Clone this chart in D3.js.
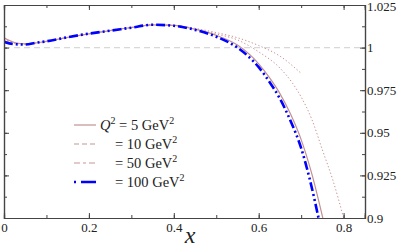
<!DOCTYPE html>
<html>
<head>
<meta charset="utf-8">
<script src="https://cdn.jsdelivr.net/npm/d3@7"></script>
<style>
  body { margin: 0; background: #fff; }
  svg text { font-family: "Liberation Serif", "Times New Roman", serif; fill: #222; }
</style>
</head>
<body>
<div id="chart"></div>
<script>
// ratio curves, one array pair per Q^2
var xQ5   = [0, 0.025, 0.05, 0.075, 0.1, 0.15, 0.2, 0.25, 0.3, 0.35, 0.4, 0.45, 0.5, 0.55, 0.6, 0.625, 0.65, 0.675, 0.7, 0.725, 0.751];
var yQ5   = [1.0058, 1.003, 1.0022, 1.0027, 1.0037, 1.006, 1.0081, 1.01, 1.0118, 1.0133, 1.013, 1.0108, 1.0072, 1.0015, 0.9905, 0.9825, 0.973, 0.961, 0.946, 0.926, 0.9];

var xQ10  = [0, 0.025, 0.05, 0.075, 0.1, 0.15, 0.2, 0.25, 0.3, 0.35, 0.4, 0.45, 0.5, 0.55, 0.6, 0.65, 0.68, 0.7, 0.725, 0.75, 0.775, 0.8];
var yQ10  = [1.005, 1.0028, 1.002, 1.0027, 1.0037, 1.006, 1.0081, 1.01, 1.0118, 1.0134, 1.013, 1.0108, 1.008, 1.0045, 0.9975, 0.988, 0.979, 0.971, 0.958, 0.94, 0.922, 0.9];

var xQ50  = [0, 0.025, 0.05, 0.075, 0.1, 0.15, 0.2, 0.25, 0.3, 0.35, 0.4, 0.45, 0.5, 0.55, 0.6, 0.65, 0.7];
var yQ50  = [1.0045, 1.0025, 1.002, 1.0027, 1.0037, 1.006, 1.0081, 1.01, 1.0118, 1.0134, 1.0131, 1.0113, 1.0088, 1.0058, 1.0012, 0.995, 0.9849];

var xQ100 = [0, 0.025, 0.05, 0.075, 0.1, 0.15, 0.2, 0.25, 0.3, 0.35, 0.4, 0.45, 0.5, 0.55, 0.575, 0.6, 0.625, 0.65, 0.675, 0.7, 0.72, 0.741];
var yQ100 = [1.0034, 1.002, 1.0018, 1.0028, 1.0037, 1.0061, 1.0082, 1.0099, 1.0117, 1.0134, 1.0128, 1.0104, 1.0064, 1.0, 0.995, 0.9885, 0.98, 0.97, 0.957, 0.941, 0.923, 0.9];

var legendQ = ["5", "10", "50", "100"];
var xTicks = [0, 0.2, 0.4, 0.6, 0.8];
var yTicks = [0.9, 0.925, 0.95, 0.975, 1, 1.025];

var width = 399, height = 248;
var padL = 4, padR = 365, padT = 5, padB = 218;

var svg = d3.select("#chart").append("svg")
  .attr("width", width)
  .attr("height", height);

var x = d3.scaleLinear().domain([0, 0.85]).range([padL, padL + 424.5 * 0.85]);
var y = d3.scaleLinear().domain([0.9, 1.025]).range([padB, padT]);

var plot = svg.append("g");
plot.append("clipPath").attr("id", "clip")
  .append("rect").attr("x", padL).attr("y", padT)
  .attr("width", padR - padL).attr("height", padB - padT);

// reference line at 1
plot.append("line")
  .attr("x1", padL).attr("x2", padR)
  .attr("y1", y(1)).attr("y2", y(1))
  .attr("stroke", "#d8d8d8").attr("stroke-width", 1.3)
  .attr("stroke-dasharray", "6,4");

var line = d3.line()
  .x(d => x(d[0]))
  .y(d => y(d[1]))
  .curve(d3.curveMonotoneX);

var series = [
  { xs: xQ10,  ys: yQ10,  color: "#c99393", w: 1,   dash: "1.3,2.2" },
  { xs: xQ50,  ys: yQ50,  color: "#c99393", w: 1,   dash: "1.3,2.2" },
  { xs: xQ5,   ys: yQ5,   color: "#c29090", w: 1.2, dash: null },
  { xs: xQ100, ys: yQ100, color: "#0000ff", w: 2.6, dash: "9,3,2,3,2,3" }
];

series.forEach(function(s) {
  plot.append("path")
    .datum(s.xs.map((v, i) => [v, s.ys[i]]))
    .attr("class", "curve")
    .attr("clip-path", "url(#clip)")
    .attr("fill", "none")
    .attr("stroke", s.color)
    .attr("stroke-width", s.w)
    .attr("stroke-dasharray", s.dash)
    .attr("d", line);
});

// axes: ticks point inward on all four sides
var axisColor = "#444";
var xMinor = d3.range(0, 0.85, 0.1);
var yMinor = d3.range(0.9, 1.026, 0.0125);

var gB = svg.append("g").attr("transform", "translate(0," + padB + ")");
gB.call(d3.axisBottom(x).tickValues(xMinor).tickSize(-3).tickFormat(""));
gB.append("g").call(d3.axisBottom(x).tickValues(xTicks).tickSize(-5).tickPadding(5).tickFormat(d => d === 0 ? "0" : d3.format(".1f")(d)));

var gT = svg.append("g").attr("transform", "translate(0," + padT + ")");
gT.call(d3.axisTop(x).tickValues(xMinor).tickSize(-3).tickFormat(""));
gT.append("g").call(d3.axisTop(x).tickValues(xTicks).tickSize(-5).tickFormat(""));

var gL = svg.append("g").attr("transform", "translate(" + padL + ",0)");
gL.call(d3.axisLeft(y).tickValues(yMinor).tickSize(-3).tickFormat(""));
gL.append("g").call(d3.axisLeft(y).tickValues(yTicks).tickSize(-5).tickFormat(""));

var gR = svg.append("g").attr("transform", "translate(" + padR + ",0)");
gR.call(d3.axisRight(y).tickValues(yMinor).tickSize(-3).tickFormat(""));
gR.append("g").call(d3.axisRight(y).tickValues(yTicks).tickSize(-5)
  .tickFormat(d => d === 1 ? "1" : d3.format(".3~f")(d)));

svg.selectAll(".domain").attr("stroke", axisColor).attr("stroke-width", 1.2);
svg.selectAll(".tick line").attr("stroke", axisColor);
svg.selectAll(".tick text")
  .style("font-family", "'Liberation Serif', serif")
  .style("font-size", "13px")
  .attr("fill", "#222");
gR.selectAll(".tick text").attr("x", 2);
// keep the top label inside the frame
gR.selectAll(".tick text").filter(d => d === 1.025).attr("y", 1.5);

// x axis title
svg.append("text")
  .attr("x", 190).attr("y", 243)
  .attr("text-anchor", "middle")
  .style("font-size", "24px")
  .style("font-style", "italic")
  .text("x");

// legend
var legY = [125, 144, 163, 182];
var legStyle = [
  { color: "#c29090", w: 1.2, dash: null },
  { color: "#c99393", w: 1.2, dash: "5,3" },
  { color: "#c99393", w: 1.2, dash: "6,3,3,3" },
  { color: "#0000ff", w: 2.6, dash: "2,5,14,0" }
];
var leg = svg.append("g");
legendQ.forEach(function(q, i) {
  var st = legStyle[i];
  leg.append("line")
    .attr("x1", 74).attr("x2", 96)
    .attr("y1", legY[i]).attr("y2", legY[i])
    .attr("stroke", st.color).attr("stroke-width", st.w)
    .attr("stroke-dasharray", st.dash);
  var t = leg.append("text")
    .attr("y", legY[i] + 5)
    .style("font-size", "14.5px");
  if (i === 0) {
    t.attr("x", 100);
    t.append("tspan").style("font-style", "italic").text("Q");
    t.append("tspan").attr("dy", -6).style("font-size", "10px").text("2");
    t.append("tspan").attr("dy", 6).text(" = " + q + " GeV");
  } else {
    t.attr("x", 115);
    t.append("tspan").text("= " + q + " GeV");
  }
  t.append("tspan").attr("dy", -6).style("font-size", "10px").text("2");
});
</script>
</body>
</html>
